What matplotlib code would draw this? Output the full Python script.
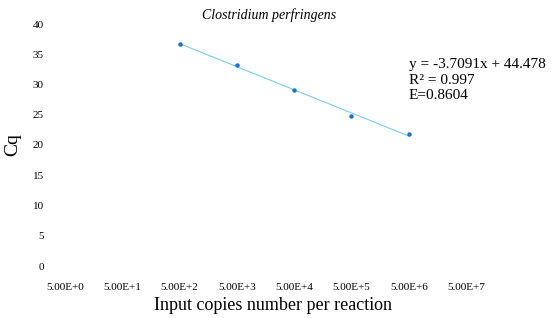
import matplotlib.pyplot as plt
import numpy as np

# Standard curve data
copies = [5e2, 5e3, 5e4, 5e5, 5e6]
cq = [36.7, 33.2, 29.1, 24.8, 21.8]

tick_copies = [5e0, 5e1, 5e2, 5e3, 5e4, 5e5, 5e6, 5e7]
tick_labels = ["5.00E+0", "5.00E+1", "5.00E+2", "5.00E+3",
               "5.00E+4", "5.00E+5", "5.00E+6", "5.00E+7"]
y_ticks = [0, 5, 10, 15, 20, 25, 30, 35, 40]

eq_text = "y = -3.7091x + 44.478\nR² = 0.997\nE=0.8604"

plt.rcParams['font.family'] = ['Liberation Serif', 'DejaVu Serif']

W, H = 552, 318
fig = plt.figure(figsize=(W / 100, H / 100), dpi=100)

# axes placed in pixel coords
left_px, right_px, top_px, bot_px = 55, 490, 24, 266
ax = fig.add_axes([left_px / W, (H - bot_px) / H,
                   (right_px - left_px) / W, (bot_px - top_px) / H])

dec_px = 57.3
x0_px = 65
lo = np.log10(5) - (x0_px - left_px) / dec_px
hi = np.log10(5) + (right_px - x0_px) / dec_px
ax.set_xscale('log')
ax.set_xlim(10 ** lo, 10 ** hi)
ax.set_ylim(0, 40)

# trendline (linear fit in log space)
lx = np.log10(copies)
coeffs = np.polyfit(lx, cq, 1)
fx = np.array([lx[0], lx[-1]])
ax.plot(10 ** fx, np.polyval(coeffs, fx), color='#7ccbee', lw=0.8, zorder=1)
ax.plot(copies, cq, 'o', color='#1a73c6', ms=2.2, zorder=2)

ax.set_xticks(tick_copies)
ax.set_xticklabels(tick_labels)
ax.xaxis.set_minor_locator(plt.NullLocator())
ax.set_yticks(y_ticks)
ax.tick_params(axis='x', length=0, pad=12, labelsize=8)
ax.tick_params(axis='y', length=0, pad=8, labelsize=8)

for s in ax.spines.values():
    s.set_visible(False)

ax.set_xlabel("Input copies number per reaction", fontsize=13, labelpad=4)
ax.set_ylabel("Cq", fontsize=14, labelpad=8)

fig.text(269 / W, 1 - 15 / H, "Clostridium perfringens", style='italic',
         fontsize=10, ha='center', va='center')
fig.text(409 / W, 1 - 58 / H, eq_text, fontsize=11, ha='left', va='top',
         linespacing=1.25)

fig.savefig("out.png", dpi=100)
